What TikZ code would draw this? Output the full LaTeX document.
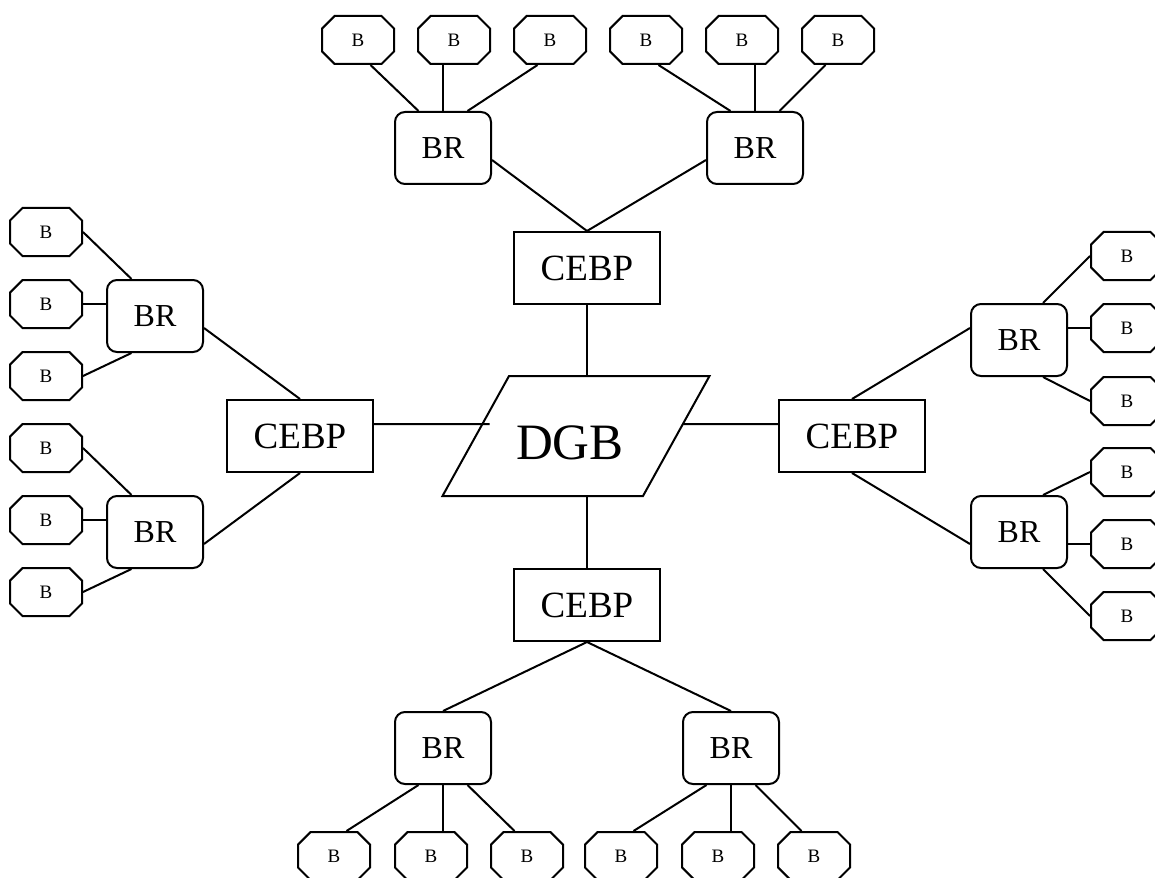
\documentclass[tikz,border=0pt]{standalone}
\usepackage{fontspec}
\setmainfont{Liberation Serif}
\usetikzlibrary{shapes.misc,shapes.geometric}

\begin{document}
\begin{tikzpicture}[x=1pt,y=-1pt,line width=2pt,
	leaf/.style={draw,chamfered rectangle,chamfered rectangle xsep=14pt,chamfered rectangle ysep=14pt,minimum width=72pt,minimum height=48pt,inner sep=0pt,font=\fontsize{19}{22}\selectfont},
	relay/.style={draw,rounded corners=10pt,minimum width=96pt,minimum height=72pt,inner sep=0pt,font=\fontsize{32}{38}\selectfont},
	hub/.style={draw,minimum width=146pt,minimum height=72pt,inner sep=0pt,font=\fontsize{37}{44}\selectfont}]
	\useasboundingbox (0,0) rectangle (1155,877);
	\clip (0,0) rectangle (1155,877);

	\node[draw,trapezium,trapezium left angle=61,trapezium right angle=119,text height=46pt,text depth=0pt,inner xsep=7.15pt,inner ysep=37pt,font=\fontsize{51}{60}\selectfont] (dgb) at (576,436) {DGB\hspace*{12pt}};

	\node[hub] (cebpT) at (587,268) {CEBP};
	\node[hub] (cebpL) at (300,436) {CEBP};
	\node[hub] (cebpR) at (852,436) {CEBP};
	\node[hub] (cebpB) at (587,605) {CEBP};

	\node[relay] (brT1) at (443,148) {BR};
	\node[relay] (brT2) at (755,148) {BR};
	\node[relay] (brL1) at (155,316) {BR};
	\node[relay] (brL2) at (155,532) {BR};
	\node[relay] (brR1) at (1019,340) {BR};
	\node[relay] (brR2) at (1019,532) {BR};
	\node[relay] (brB1) at (443,748) {BR};
	\node[relay] (brB2) at (731,748) {BR};

	\foreach \x [count=\n] in {358,454,550,646,742,838}
		\node[leaf] (bT\n) at (\x,40) {B};
	\foreach \x [count=\n] in {334,431,527,621,718,814}
		\node[leaf] (bB\n) at (\x,856) {B};
	\foreach \y [count=\n] in {232,304,376,448,520,592}
		\node[leaf] (bL\n) at (46,\y) {B};
	\foreach \y [count=\n] in {256,328,401,472,544,616}
		\node[leaf] (bR\n) at (1127,\y) {B};

	\foreach \g/\a/\b/\c in {1/1/2/3,2/4/5/6}{
		\draw ([xshift=12.5pt]bT\a.south) -- ([xshift=-24.5pt]brT\g.north);
		\draw (brT\g.north) -- (brT\g.north |- bT\b.south);
		\draw ([xshift=-12.5pt]bT\c.south) -- ([xshift=24.5pt]brT\g.north);
		\draw ([xshift=-24.5pt]brB\g.south) -- ([xshift=12.5pt]bB\a.north);
		\draw (brB\g.south) -- (brB\g.south |- bB\b.north);
		\draw ([xshift=24.5pt]brB\g.south) -- ([xshift=-12.5pt]bB\c.north);
		\draw (bL\a.east) -- ([xshift=-23.5pt]brL\g.north);
		\draw (bL\b.east) -- (bL\b.east -| brL\g.west);
		\draw (bL\c.east) -- ([xshift=-23.5pt]brL\g.south);
		\draw (bR\a.west) -- ([xshift=24pt]brR\g.north);
		\draw (bR\b.west) -- (bR\b.west -| brR\g.east);
		\draw (bR\c.west) -- ([xshift=24pt]brR\g.south);
	}

	\draw ([yshift=-12pt]brT1.east) -- (cebpT.north);
	\draw ([yshift=-12pt]brT2.west) -- (cebpT.north);
	\draw ([yshift=-12pt]brL1.east) -- (cebpL.north);
	\draw ([yshift=-12pt]brL2.east) -- (cebpL.south);
	\draw ([yshift=12pt]brR1.west) -- (cebpR.north);
	\draw ([yshift=-12pt]brR2.west) -- (cebpR.south);
	\draw (brB1.north) -- (cebpB.south);
	\draw (brB2.north) -- (cebpB.south);

	\draw (cebpT.south) -- (cebpT.south |- dgb.north);
	\draw (cebpB.north) -- (cebpB.north |- dgb.south);
	\draw ([yshift=12pt]cebpL.east) -- ([xshift=15pt,yshift=12pt]dgb.west);
	\draw ([yshift=12pt]cebpR.west) -- ([xshift=6pt,yshift=12pt]dgb.east);
\end{tikzpicture}
\end{document}
